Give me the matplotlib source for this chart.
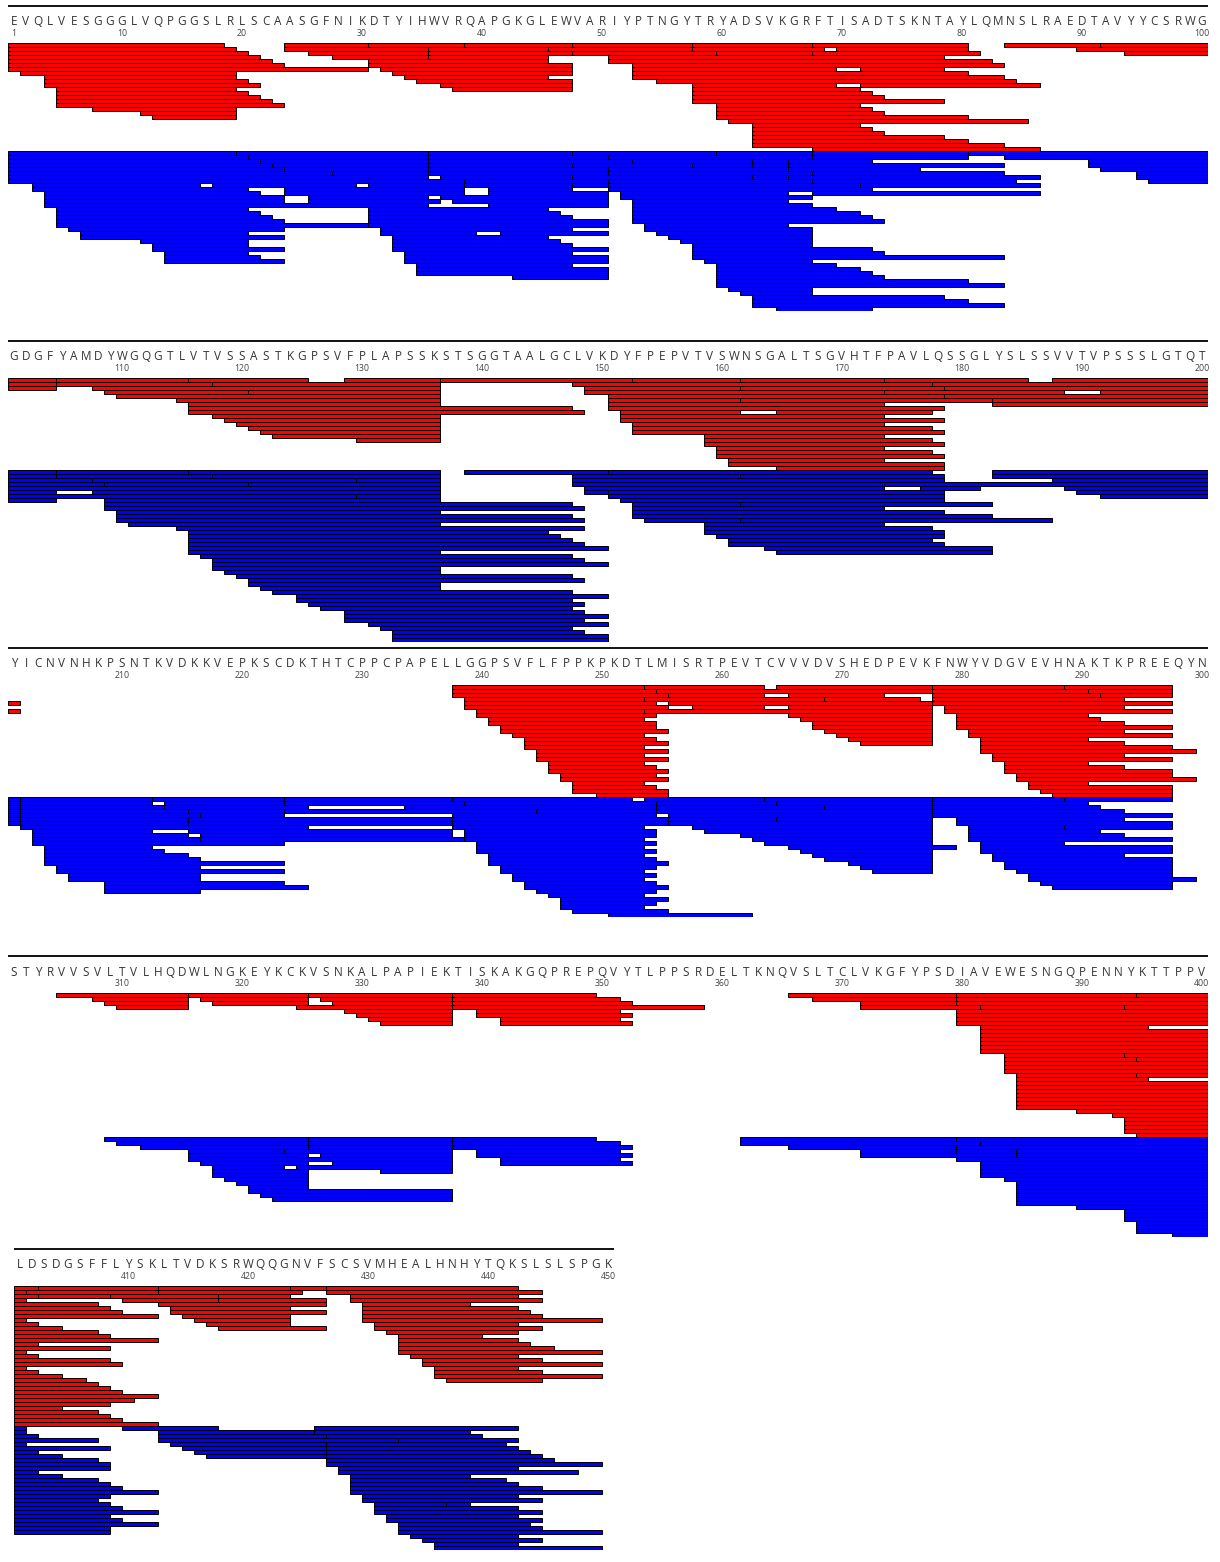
import matplotlib.pyplot as plt

SEQUENCE = ("EVQLVESGGGLVQPGGSLRLSCAASGFNIKDTYIHWVRQAPGKGLEWVARIYPTNGYTRYADSVKGRFTISADTSKNTAYLQMNSLRAEDTAVYYCSRWG"
            "GDGFYAMDYWGQGTLVTVSSASTKGPSVFPLAPSSKSTSGGTAALGCLVKDYFPEPVTVSWNSGALTSGVHTFPAVLQSSGLYSLSSVVTVPSSSLGTQT"
            "YICNVNHKPSNTKVDKKVEPKSCDKTHTCPPCPAPELLGGPSVFLFPPKPKDTLMISRTPEVTCVVVDVSHEDPEVKFNWYVDGVEVHNAKTKPREEQYN"
            "STYRVVSVLTVLHQDWLNGKEYKCKVSNKALPAPIEKTISKAKGQPREPQVYTLPPSRDELTKNQVSLTCLVKGFYPSDIAVEWESNGQPENNYKTTPPV"
            "LDSDGSFFLYSKLTVDKSRWQQGNVFSCSVMHEALHNHYTQKSLSLSPGK")

# peptides (start, end), residue numbers
RED_1 = [
    (1, 18), (24, 30), (31, 38), (46, 57), (58, 67), (68, 80), (84, 91), (92, 100),
    (1, 19), (24, 35), (36, 45), (48, 57), (58, 68), (70, 80), (90, 100),
    (1, 20), (26, 35), (36, 47), (48, 59), (60, 67), (68, 81), (94, 100),
    (1, 21), (28, 35), (36, 45), (51, 78),
    (1, 22), (31, 45), (51, 82),
    (1, 23), (31, 47), (53, 83),
    (1, 30), (32, 47), (53, 69), (72, 78),
    (2, 19), (33, 47), (53, 80),
    (4, 19), (34, 45), (53, 83),
    (4, 20), (35, 47), (55, 84),
    (4, 21), (37, 47), (58, 69), (72, 86),
    (5, 19), (38, 47), (58, 71),
    (5, 20), (39, 47), (58, 72),
    (5, 21), (58, 73),
    (5, 22), (58, 78),
    (5, 23), (60, 71),
    (8, 19), (60, 72),
    (12, 19), (60, 73),
    (13, 19), (60, 80),
    (61, 85), (63, 71), (63, 72), (63, 73), (63, 78), (63, 80), (63, 83), (68, 86),
]
BLUE_1 = [
    (1, 19), (20, 35), (36, 47), (48, 59), (60, 67), (68, 80), (81, 100),
    (1, 20), (21, 35), (36, 50), (51, 67), (68, 80), (84, 100),
    (1, 21), (22, 35), (36, 52), (53, 62), (63, 65), (66, 72), (91, 100),
    (1, 22), (23, 35), (36, 47), (48, 57), (58, 62), (63, 65), (66, 83), (91, 100),
    (1, 23), (24, 35), (37, 47), (48, 62), (63, 65), (66, 76), (92, 100),
    (1, 27), (28, 35), (36, 50), (51, 65), (66, 86), (95, 100),
    (1, 35), (37, 50), (51, 67), (68, 83), (95, 100),
    (1, 38), (39, 50), (51, 67), (68, 84), (96, 100),
    (3, 16), (18, 29), (31, 38), (39, 47), (48, 50), (51, 71), (72, 86),
    (3, 20), (24, 38), (41, 47), (51, 72),
    (4, 21), (24, 38), (41, 50), (52, 65), (68, 86),
    (4, 23), (26, 35), (36, 50), (52, 67),
    (4, 23), (26, 36), (38, 50), (53, 65),
    (4, 35), (41, 50), (53, 67),
    (5, 20), (31, 45), (53, 69),
    (5, 21), (31, 46), (53, 71),
    (5, 22), (31, 47), (53, 72),
    (5, 23), (31, 50), (53, 73),
    (5, 30), (31, 50), (54, 65),
    (6, 23), (32, 47), (54, 67),
    (7, 20), (32, 39), (42, 50), (55, 67),
    (7, 23), (33, 45), (56, 67),
    (12, 20), (33, 46), (57, 67),
    (13, 20), (33, 47), (58, 67),
    (13, 23), (33, 50), (58, 72),
    (14, 20), (34, 47), (58, 73),
    (14, 21), (34, 50), (58, 83),
    (14, 23), (34, 50), (59, 67),
    (35, 47), (60, 69),
    (35, 50), (60, 71),
    (35, 50), (60, 72),
    (43, 50), (60, 73),
    (60, 80), (60, 83), (61, 67), (62, 67), (63, 78), (63, 80), (63, 83), (65, 72),
]
RED_2 = [
    (101, 104), (105, 115), (116, 125), (129, 136), (137, 152), (153, 161), (162, 173), (174, 185), (188, 200),
    (101, 104), (105, 117), (118, 136), (148, 177), (178, 200),
    (101, 104), (108, 136), (149, 161), (162, 178), (179, 200),
    (109, 120), (121, 136), (149, 173), (174, 188), (192, 200),
    (110, 136), (151, 178), (179, 201),
    (115, 136), (151, 161), (162, 182), (183, 200),
    (116, 136), (151, 173), (183, 201),
    (116, 147), (151, 178),
    (116, 148), (152, 161), (165, 177),
    (118, 136), (152, 173),
    (119, 136), (152, 178),
    (120, 136), (153, 173),
    (121, 136), (153, 177),
    (122, 136), (153, 178),
    (123, 136), (159, 173),
    (130, 136), (159, 177),
    (159, 178), (160, 173), (160, 177), (160, 178), (161, 173), (161, 178), (165, 178),
]
BLUE_2 = [
    (101, 104), (105, 115), (116, 136), (139, 150), (151, 177), (183, 201),
    (101, 104), (105, 117), (118, 136), (148, 161), (162, 178), (188, 201),
    (101, 107), (108, 129), (130, 136), (148, 178), (189, 201),
    (101, 108), (109, 120), (121, 136), (148, 173), (174, 201),
    (101, 136), (149, 173), (177, 181), (190, 201),
    (101, 104), (108, 136), (149, 150), (151, 178), (192, 201),
    (101, 129), (130, 136), (151, 178), (183, 201),
    (101, 104), (109, 136), (152, 178),
    (109, 147), (153, 161), (162, 182),
    (109, 148), (153, 173),
    (110, 136), (153, 178),
    (110, 147), (153, 182),
    (110, 148), (154, 161), (162, 187),
    (111, 136), (159, 173),
    (115, 148), (159, 177),
    (116, 145), (159, 178),
    (116, 146), (160, 178),
    (116, 147), (161, 177),
    (116, 148), (161, 178),
    (116, 150), (164, 182),
    (116, 136), (165, 182),
    (117, 147), (118, 148), (118, 150), (118, 136), (119, 136), (120, 147), (121, 148),
    (121, 136), (122, 136), (123, 147), (125, 150), (125, 147), (126, 148), (127, 147),
    (129, 148), (129, 150), (129, 148), (131, 150), (132, 147), (133, 148), (133, 150), (133, 150),
]
RED_3 = [
    (238, 253), (254, 263), (265, 277), (278, 288), (289, 297),
    (238, 254), (255, 277), (278, 290), (291, 297),
    (238, 255), (256, 263), (266, 273), (278, 291), (292, 297),
    (239, 253), (254, 268), (269, 276), (278, 293),
    (239, 254), (256, 277), (278, 297),
    (239, 255), (258, 263), (266, 277), (279, 293),
    (240, 253), (254, 277), (279, 297),
    (240, 254), (266, 277), (280, 290),
    (241, 253), (267, 277), (280, 291),
    (241, 254), (268, 277), (280, 293),
    (242, 254), (268, 277), (280, 297),
    (242, 255), (269, 277), (281, 293),
    (243, 253), (270, 277), (281, 297),
    (244, 254), (271, 277), (282, 290),
    (244, 255), (272, 277), (282, 293),
    (244, 253), (282, 297),
    (245, 255), (282, 299),
    (245, 253), (283, 293),
    (245, 255), (283, 297),
    (246, 253), (284, 290),
    (246, 254), (284, 293),
    (246, 255), (284, 297),
    (247, 254), (285, 297),
    (247, 255), (285, 299),
    (248, 253), (286, 290),
    (248, 254), (286, 297),
    (248, 255), (287, 297),
    (250, 255), (288, 297),
]
BLUE_3 = [
    (202, 212), (213, 223), (224, 237), (238, 252), (254, 263), (264, 277), (278, 288), (289, 297),
    (202, 212), (214, 223), (224, 238), (239, 254), (255, 264), (265, 277), (278, 290),
    (202, 213), (214, 225), (234, 254), (255, 268), (269, 277), (278, 291),
    (202, 215), (216, 223), (224, 244), (245, 254), (255, 277), (278, 293),
    (202, 216), (217, 223), (238, 254), (256, 277), (278, 297),
    (202, 215), (216, 237), (238, 255), (256, 264), (265, 277), (280, 293),
    (202, 215), (216, 237), (238, 255), (256, 277), (280, 297),
    (202, 225), (239, 254), (258, 277), (281, 288),
    (203, 212), (216, 237), (238, 253), (259, 277), (281, 291),
    (203, 215), (217, 237), (239, 254), (262, 277), (281, 293),
    (203, 216), (217, 238), (239, 253), (263, 277), (281, 297),
    (203, 223), (240, 254), (264, 277), (282, 288),
    (204, 212), (240, 253), (266, 279), (282, 297),
    (204, 213), (240, 254), (267, 277), (282, 297),
    (204, 215), (241, 253), (268, 277), (283, 293),
    (204, 216), (241, 254), (269, 277), (283, 297),
    (204, 223), (241, 255), (271, 277), (284, 297),
    (205, 216), (242, 254), (272, 277), (284, 297),
    (205, 223), (242, 253), (273, 277), (285, 297),
    (206, 216), (243, 254), (286, 297),
    (206, 216), (243, 253), (286, 299),
    (209, 223), (244, 254), (287, 297),
    (209, 225), (244, 255), (288, 297),
    (209, 216), (245, 254), (289, 297),
    (246, 253), (247, 255), (247, 254), (247, 253), (248, 255), (251, 262),
]
RED_4 = [
    (305, 315), (316, 325), (326, 337), (338, 349), (366, 379), (380, 394), (395, 400),
    (308, 315), (317, 325), (327, 337), (338, 351), (368, 379), (380, 400),
    (309, 315), (318, 325), (328, 337), (338, 352), (372, 379), (380, 400),
    (310, 315), (325, 337), (338, 358), (372, 381), (382, 393), (394, 400),
    (329, 337), (340, 351), (380, 400),
    (330, 337), (340, 352), (380, 400),
    (331, 337), (342, 351), (380, 400),
    (332, 337), (342, 352), (380, 400),
    (382, 395), (382, 400), (382, 400), (382, 400), (382, 400), (382, 400), (382, 400),
    (384, 393), (394, 400),
    (384, 394), (395, 400),
    (384, 400), (384, 400), (384, 400),
    (385, 394), (395, 400),
    (385, 395), (385, 400), (385, 400), (385, 400), (385, 400), (385, 400), (385, 400), (385, 400),
    (390, 400), (393, 400), (394, 400), (394, 400), (394, 400), (394, 400), (395, 400),
]
BLUE_4 = [
    (309, 325), (326, 337), (338, 349), (362, 379), (380, 400),
    (310, 325), (327, 337), (338, 351), (362, 381), (382, 400),
    (312, 325), (328, 337), (338, 352), (366, 379), (380, 400),
    (316, 323), (324, 337), (340, 351), (372, 379), (380, 384), (385, 400),
    (316, 325), (332, 337), (340, 352), (372, 384), (385, 400),
    (316, 337), (342, 351), (380, 400),
    (317, 325), (326, 337), (342, 352), (382, 400),
    (318, 323), (325, 337), (382, 400),
    (318, 325), (382, 400),
    (318, 325), (326, 337), (382, 400),
    (319, 325), (384, 400),
    (320, 325), (385, 400),
    (321, 325), (385, 400),
    (321, 337), (385, 400),
    (322, 337), (385, 400),
    (323, 337), (385, 400),
    (385, 400), (390, 400), (394, 400), (394, 400), (394, 400),
    (395, 400), (395, 400), (395, 400), (398, 400),
]
RED_5 = [
    (401, 402), (403, 412), (413, 423), (427, 442),
    (401, 401), (402, 412), (413, 424), (427, 444),
    (401, 402), (409, 417), (418, 423), (429, 442),
    (401, 401), (410, 417), (418, 426), (429, 444),
    (401, 407), (413, 426), (430, 438),
    (401, 408), (414, 423), (424, 426), (430, 442),
    (401, 409), (414, 426), (430, 443),
    (401, 412), (415, 423), (430, 444),
    (416, 423), (430, 449),
    (401, 401), (417, 423), (431, 442),
    (401, 402), (418, 426), (431, 444),
    (401, 404), (432, 442),
    (401, 407), (433, 439),
    (401, 408), (433, 442),
    (401, 412), (433, 443),
    (401, 402), (403, 408), (433, 445),
    (401, 408), (433, 449),
    (401, 401), (434, 442),
    (401, 402), (435, 444),
    (401, 408), (435, 449),
    (401, 409), (436, 442),
    (436, 444),
    (401, 401), (436, 449),
    (401, 402), (437, 444),
    (401, 404), (401, 406), (401, 407), (401, 408), (401, 409), (401, 412), (401, 410),
    (401, 408), (401, 404), (401, 407), (401, 408), (401, 409), (401, 412),
]
BLUE_5 = [
    (401, 401), (410, 417), (426, 442),
    (401, 401), (413, 425), (426, 438),
    (401, 402), (413, 426), (427, 439),
    (401, 407), (413, 432), (433, 442),
    (401, 401), (414, 426), (427, 441),
    (401, 408), (415, 426), (427, 442),
    (401, 402), (416, 426), (427, 443),
    (401, 404), (417, 426), (427, 444),
    (401, 407), (427, 445),
    (401, 408), (427, 449),
    (401, 408), (428, 442),
    (401, 402), (428, 447),
    (401, 404), (429, 438),
    (401, 407), (429, 441),
    (401, 408), (429, 442),
    (401, 409), (429, 444),
    (401, 412), (429, 449),
    (401, 408), (430, 442),
    (401, 407), (430, 444),
    (401, 408), (431, 436), (437, 438),
    (401, 409), (431, 442),
    (401, 412), (431, 444),
    (401, 408), (432, 442),
    (401, 409), (432, 444),
    (401, 412), (433, 443),
    (401, 408), (433, 444),
    (401, 408), (433, 449),
    (434, 442), (435, 444), (436, 442), (436, 449),
]

red_peptides = RED_1 + RED_2 + RED_3 + RED_4 + RED_5
blue_peptides = BLUE_1 + BLUE_2 + BLUE_3 + BLUE_4 + BLUE_5

rows = [(1, 100), (101, 200), (201, 300), (301, 400), (401, 450)]


def assign_lanes(peptides):
    # first-fit packing, peptides taken in order of start residue
    order = sorted(range(len(peptides)), key=lambda i: peptides[i][0])
    lane_end = []
    lanes = [0] * len(peptides)
    for i in order:
        s, e = peptides[i]
        for k, last in enumerate(lane_end):
            if s > last:
                lane_end[k] = e
                lanes[i] = k
                break
        else:
            lane_end.append(e)
            lanes[i] = len(lane_end) - 1
    return lanes


red_lanes = assign_lanes(red_peptides)
blue_lanes = assign_lanes(blue_peptides)

W, H = 1220, 1562
fig = plt.figure(figsize=(W / 100, H / 100), dpi=100)

bar_tops = [42.5, 377.5, 685, 993, 1286]
row_left = [8, 8, 8, 8, 14]
PX = 12.0     # pixels per residue
LANE = 4.0    # pixels per lane
HEAD = 37.0   # header height above bars, pixels


def in_row(peps, lanes, lo, hi):
    out = []
    for (s, e), l in zip(peps, lanes):
        if e >= lo and s <= hi:
            out.append((max(s, lo), min(e, hi), l))
    return out


for (lo, hi), top, x0 in zip(rows, bar_tops, row_left):
    reds = in_row(red_peptides, red_lanes, lo, hi)
    blues = in_row(blue_peptides, blue_lanes, lo, hi)
    n_red = max(l for _, _, l in reds) + 1
    n_blue = max(l for _, _, l in blues) + 1
    n = n_red + n_blue
    head = HEAD / LANE
    h_px = HEAD + n * LANE
    ax = fig.add_axes([x0 / W, 1 - (top - HEAD + h_px) / H, (hi - lo + 1) * PX / W, h_px / H])
    ax.set_xlim(lo - 0.5, hi + 0.5)
    ax.set_ylim(n, -head)
    ax.axis('off')

    ax.barh([l for _, _, l in reds], [e - s + 1 for s, e, _ in reds],
            left=[s - 0.5 for s, _, _ in reds], height=1, align='edge',
            color='#ff0000', edgecolor='black', linewidth=0.7)
    ax.barh([n_red + l for _, _, l in blues], [e - s + 1 for s, e, _ in blues],
            left=[s - 0.5 for s, _, _ in blues], height=1, align='edge',
            color='#0000ff', edgecolor='black', linewidth=0.7)

    ax.plot([lo - 0.5, hi + 0.5], [-head, -head], color='#111111', lw=1.4,
            solid_capstyle='butt', clip_on=False)
    for i in range(lo, hi + 1):
        ax.text(i, -head + 4.0, SEQUENCE[i - 1], ha='center', va='center',
                fontsize=8.5, color='#333333', family='Open Sans')
    ticks = list(range(lo + 9, hi + 1, 10))
    if lo == 1:
        ticks = [1] + ticks
    for t in ticks:
        ax.text(t, -head + 6.9, str(t), ha='center', va='center',
                fontsize=6.3, color='#444444', family='Open Sans')

fig.savefig('out.png', dpi=100)
